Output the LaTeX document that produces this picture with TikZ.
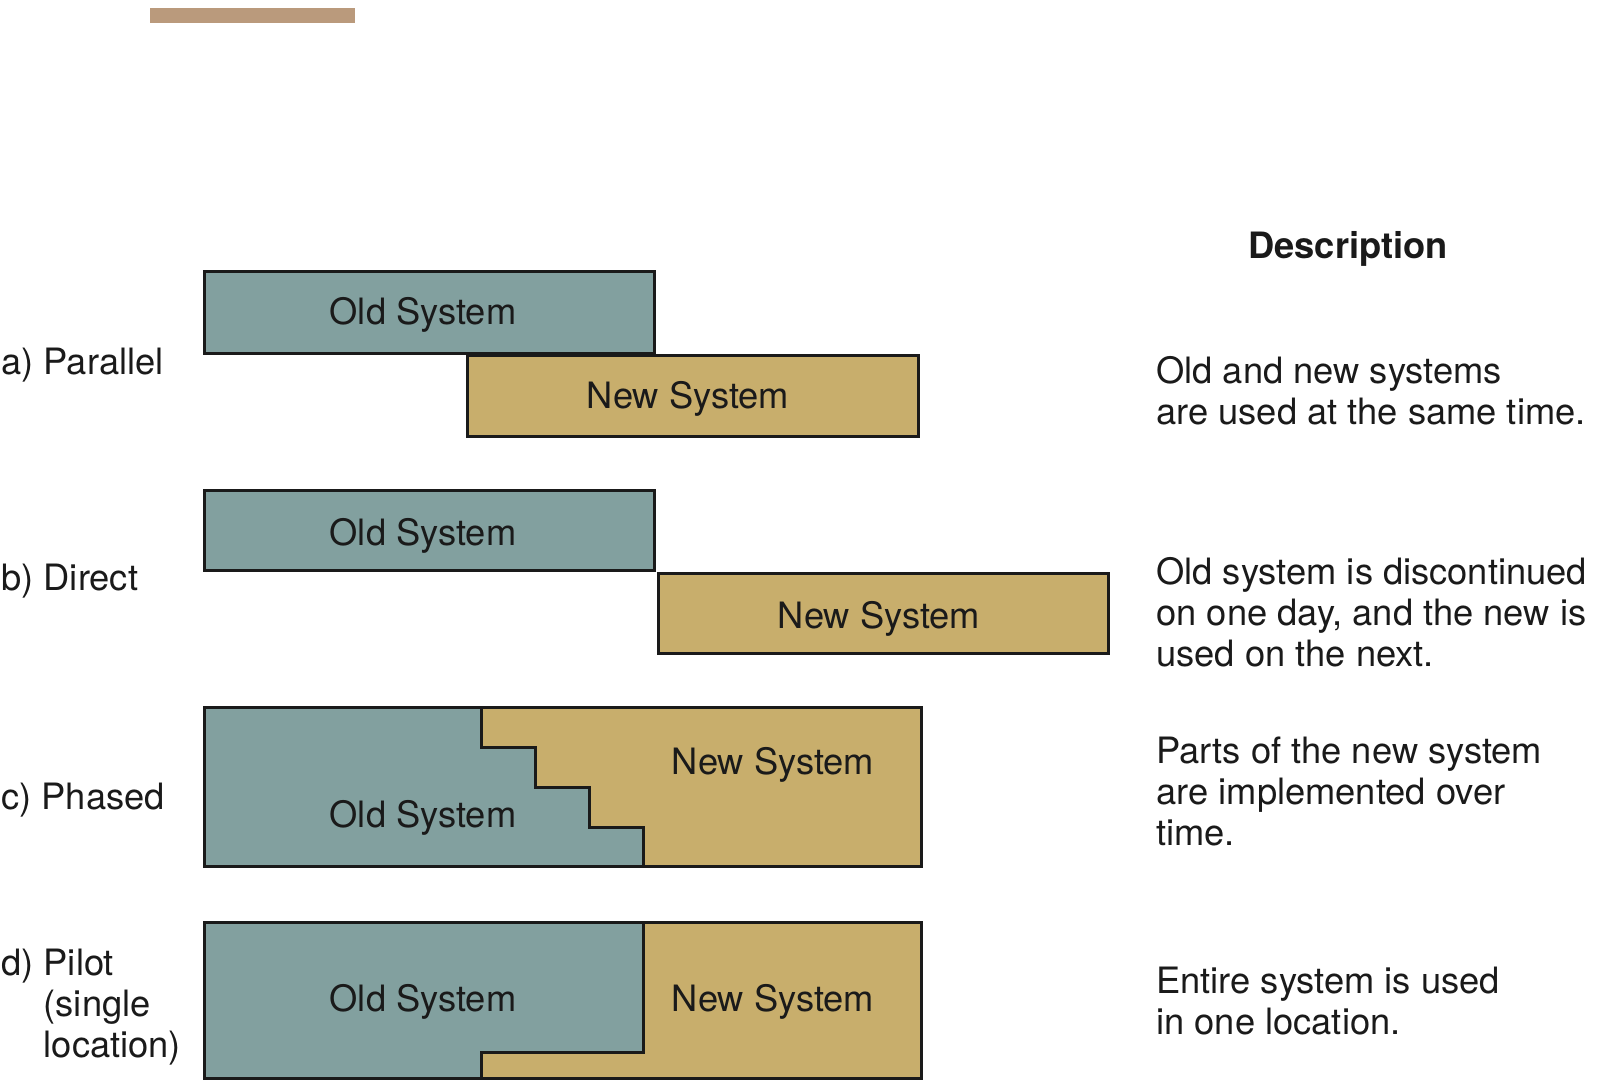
\documentclass[tikz,border=0pt]{standalone}
\usepackage{fontspec}
\setmainfont{TeX Gyre Heros}
\definecolor{oldc}{HTML}{82A09F}
\definecolor{newc}{HTML}{C8AE6C}
\definecolor{barc}{HTML}{BA9A7C}
\definecolor{ink}{HTML}{1A1A1A}
\begin{document}
\begin{tikzpicture}[x=0.5pt,y=-0.5pt,
  boxline/.style={draw=ink,line width=1.5pt},
  lbl/.style={inner sep=0pt,text=ink,font=\fontsize{18.15}{20.5}\selectfont},
  syslbl/.style={lbl,anchor=base},
  desc/.style={lbl,anchor=north west,align=left},
  rowlbl/.style={lbl,anchor=base west}]
\useasboundingbox (0,0) rectangle (1600,1081);
\fill[barc] (150,8) rectangle (355,23);

% (a) parallel
\draw[boxline,fill=oldc] (204,271) rectangle (654,353);
\draw[boxline,fill=newc] (467,355) rectangle (918,436);
\node[syslbl] (aold) at (423,324) {Old System};
\node[syslbl] (anew) at (688,408) {New System};

% (b) direct
\draw[boxline,fill=oldc] (204,490) rectangle (654,570);
\draw[boxline,fill=newc] (658,573) rectangle (1108,653);
\node[syslbl] (bold) at (423,545) {Old System};
\node[syslbl] (bnew) at (879,628) {New System};

% (c) phased
\fill[oldc] (204,707) -| (481,747) -| (535,787) -| (589,827) -| (643,866) -- (204,866) -- cycle;
\fill[newc] (481,707) -- (921,707) -- (921,866) -- (643,866) |- (589,827) |- (535,787) |- (481,747) -- cycle;
\draw[boxline] (481,707) |- (535,747) |- (589,787) |- (643,827) -- (643,866);
\draw[boxline] (204,707) rectangle (921,866);
\node[syslbl] (cnew) at (773,774) {New System};
\node[syslbl] (cold) at (423,827) {Old System};

% (d) pilot
\fill[oldc] (204,922) -- (643,922) -- (643,1052) -- (481,1052) -- (481,1078) -- (204,1078) -- cycle;
\fill[newc] (643,922) -- (921,922) -- (921,1078) -- (481,1078) -- (481,1052) -- (643,1052) -- cycle;
\draw[boxline] (643,922) -- (643,1052) -- (481,1052) -- (481,1078);
\draw[boxline] (204,922) rectangle (921,1078);
\node[syslbl] (dold) at (423,1011) {Old System};
\node[syslbl] (dnew) at (773,1011) {New System};

% row labels
\node[rowlbl] (la) at (1,374) {a) Parallel};
\node[rowlbl] (lb) at (1,590) {b) Direct};
\node[rowlbl] (lc) at (1,809) {c) Phased};
\node[lbl,anchor=north west,align=left] (ld) at (1,949) {d) Pilot\\\hphantom{d) }(single\\\hphantom{d) }location)};

% descriptions
\node[lbl,anchor=base,font=\fontsize{18.15}{20.5}\selectfont\bfseries] (dhead) at (1348,258) {Description};
\node[desc] (da) at (1156,356) {Old and new systems\\are used at the same time.};
\node[desc] (db) at (1156,557) {Old system is discontinued\\on one day, and the new is\\used on the next.};
\node[desc] (dc) at (1156,737) {Parts of the new system\\are implemented over\\time.};
\node[desc] (dd) at (1156,967) {Entire system is used\\in one location.};
\end{tikzpicture}
\end{document}
